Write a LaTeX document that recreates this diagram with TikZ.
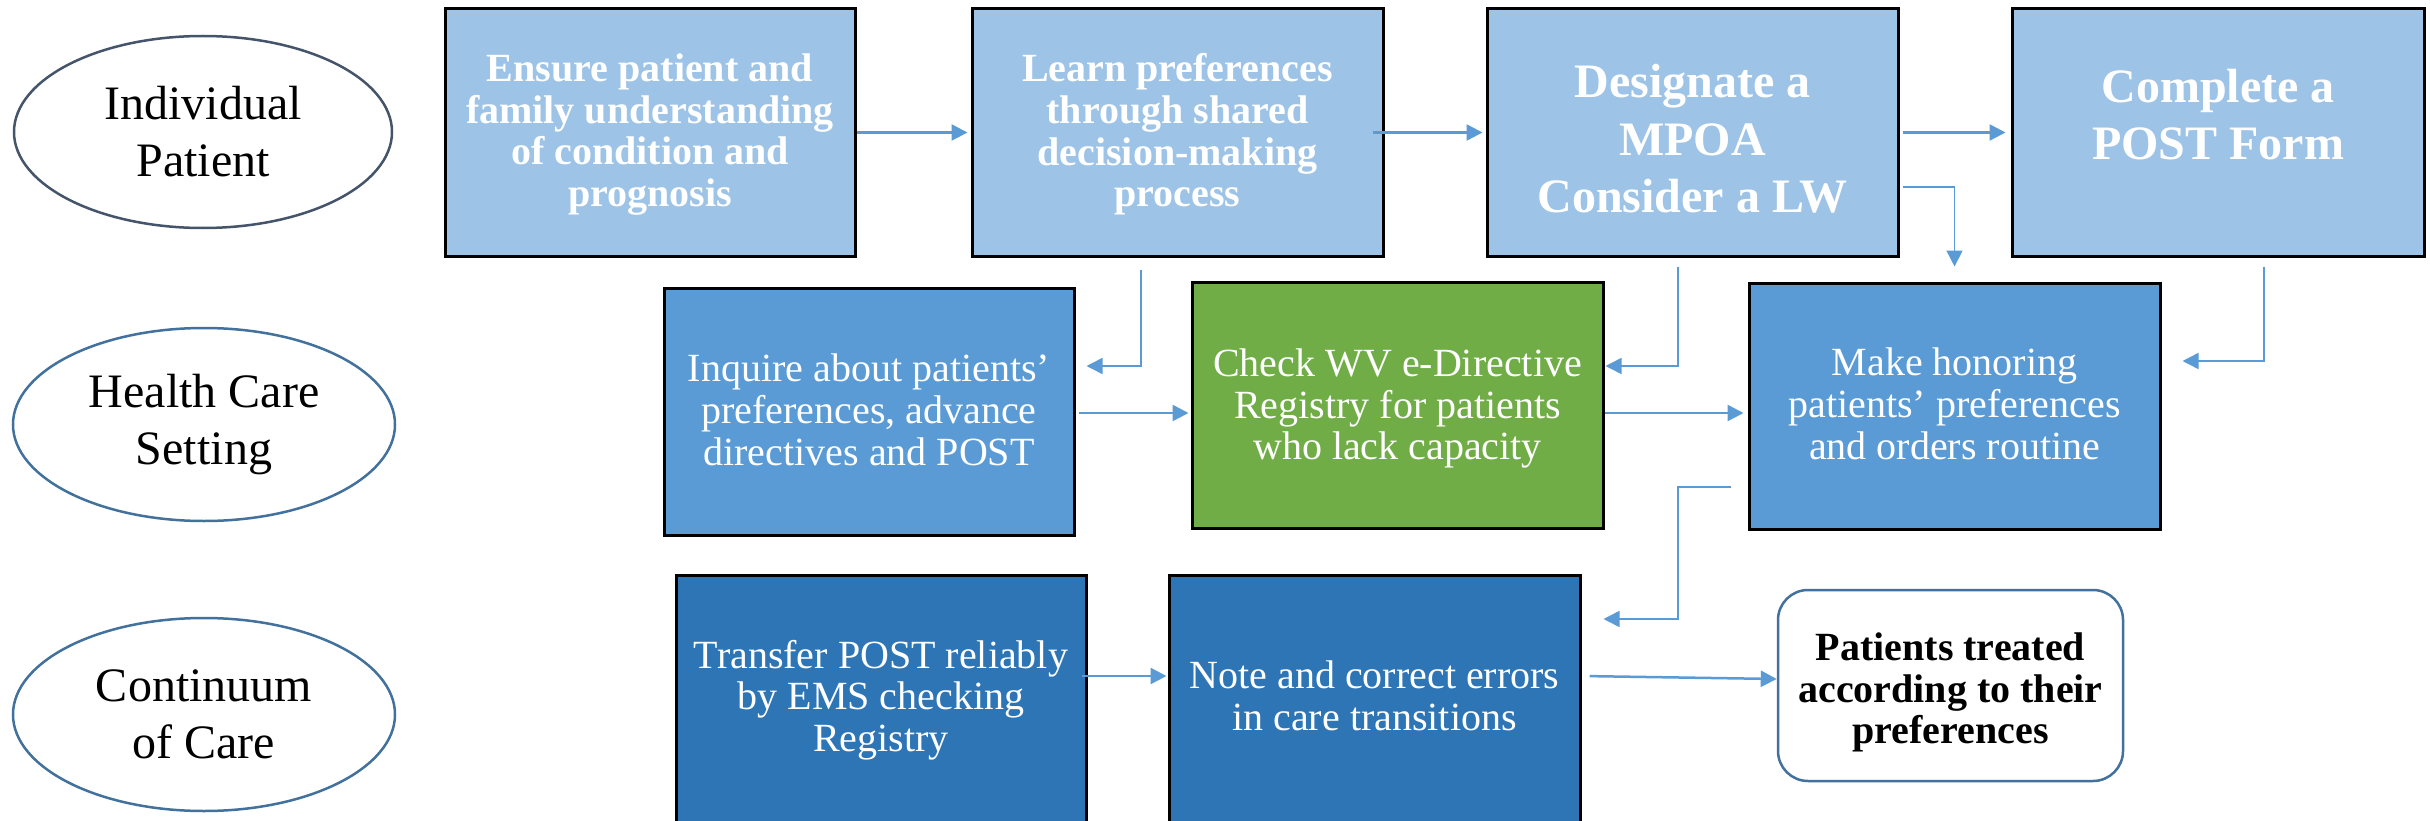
\documentclass[tikz,border=0pt]{standalone}
\usepackage{fontspec}
\setmainfont{Liberation Serif}
\usetikzlibrary{arrows.meta,shapes.geometric}
\definecolor{lightfill}{HTML}{9DC3E6}
\definecolor{midfill}{HTML}{5B9BD5}
\definecolor{greenfill}{HTML}{70AD47}
\definecolor{darkfill}{HTML}{2E75B6}
\definecolor{arrowblue}{HTML}{5B9BD5}
\definecolor{slateedge}{HTML}{44546A}
\definecolor{blueedge}{HTML}{41719C}
\begin{document}
\begin{tikzpicture}[x=1pt,y=-1pt,
  lane/.style={ellipse, draw=blueedge, line width=2.5pt, fill=white, inner sep=0, align=center,
    font=\fontsize{48}{57}\selectfont},
  stepbox/.style={rectangle, draw=black, line width=3pt, inner sep=0},
  wtxt/.style={inner sep=0, align=center, text=white, font=\fontsize{40}{41.7}\selectfont},
  wbold/.style={inner sep=0, align=center, text=white, font=\fontsize{40}{41.7}\selectfont\bfseries},
  wbig/.style={inner sep=0, align=center, text=white, font=\fontsize{48}{57.5}\selectfont\bfseries},
  arr/.style={draw=arrowblue, line width=2.5pt, -{Triangle[length=16pt,width=16pt]}},
  elbow/.style={draw=arrowblue, line width=1.6pt, -{Triangle[length=16pt,width=16pt]}}
]
\clip (0,0) rectangle (2430,821);
\fill[white] (0,0) rectangle (2430,821);

% lanes
\node[lane, draw=slateedge, minimum width=378pt, minimum height=192pt] (ell1) at (203,132) {Individual\\Patient};
\node[lane, minimum width=382pt, minimum height=193pt] (ell2) at (204,424.5) {Health Care\\Setting};
\node[lane, minimum width=382pt, minimum height=193pt] (ell3) at (204,714.5) {Continuum\\of Care};

% top row
\node[stepbox, fill=lightfill, minimum width=410pt, minimum height=247pt] (b1) at (650,132.5) {};
\node[stepbox, fill=lightfill, minimum width=411pt, minimum height=247pt] (b2) at (1177.5,132.5) {};
\node[stepbox, fill=lightfill, minimum width=411pt, minimum height=247pt] (b3) at (1692.5,132.5) {};
\node[stepbox, fill=lightfill, minimum width=412pt, minimum height=247pt] (b4) at (2218,132.5) {};
\node[wbold] (b1t) at (650,134.5) {Ensure patient and\\family understanding\\of condition and\\prognosis};
\node[wbold] (b2t) at (1177.5,134.5) {Learn preferences\\through shared\\decision-making\\process};
\node[wbig] (b3t) at (1692.5,139) {Designate a\\MPOA\\Consider a LW};
\node[wbig] (b4t) at (2218,114.5) {Complete a\\POST Form};

% middle row
\node[stepbox, fill=midfill, minimum width=410pt, minimum height=247pt] (inquire) at (869,411.5) {};
\node[stepbox, fill=greenfill, minimum width=411pt, minimum height=246pt] (green) at (1397.5,405) {};
\node[stepbox, fill=midfill, minimum width=411pt, minimum height=246pt] (make) at (1954.5,406) {};
\node[wtxt] (inquiret) at (869,410) {Inquire about patients’\\preferences, advance\\directives and POST};
\node[wtxt] (greent) at (1397.5,408.5) {Check WV e-Directive\\Registry for patients\\who lack capacity};
\node[wtxt] (maket) at (1954.5,404) {Make honoring\\patients’ preferences\\and orders routine};

% bottom row
\node[stepbox, fill=darkfill, minimum width=410pt, minimum height=265pt] (transfer) at (881,707.5) {};
\node[stepbox, fill=darkfill, minimum width=411pt, minimum height=265pt] (note) at (1374.5,707.5) {};
\node[rectangle, rounded corners=30pt, draw=blueedge, line width=2.5pt, fill=white, inner sep=0,
  minimum width=345pt, minimum height=191pt] (patients) at (1950.5,685.5) {};
\node[wtxt] (transfert) at (881,700) {Transfer POST reliably\\by EMS checking\\Registry};
\node[wtxt] (notet) at (1374.5,695.5) {Note and correct errors\\in care transitions};
\node[inner sep=0, align=center, text=black, font=\fontsize{40}{41.7}\selectfont\bfseries] (patientst) at (1950.5,692.5) {Patients treated\\according to their\\preferences};

% connectors
\draw[arr, shorten >=3pt] (b1) -- (b2);
\draw[arr, shorten >=3pt, shorten <=-12pt] (b2) -- (b3);
\draw[arr, shorten >=5pt, shorten <=3pt] (b3) -- (b4);
\draw[elbow, shorten >=15pt, shorten <=3pt] (b3.east |- 0,187) -| (make.north);
\draw[elbow, shorten <=12pt, shorten >=11pt] (1141,0 |- b2.south) |- (inquire.east |- 0,366);
\draw[elbow, shorten <=9pt, shorten >=1pt] (1678,0 |- b3.south) |- (green.east |- 0,366);
\draw[elbow, shorten <=9pt, shorten >=21pt] (2264,0 |- b4.south) |- (make.east |- 0,361);
\draw[arr, shorten <=3pt, shorten >=2pt] (inquire.east |- 0,413) -- (green.west |- 0,413);
\draw[arr, shorten <=0pt, shorten >=4pt] (green.east |- 0,413) -- (make.west |- 0,413);
\draw[elbow, shorten <=17pt, shorten >=22pt] (make.west |- 0,487) -- (1678,487) |- (note.east |- 0,619);
\draw[arr, shorten <=-6pt, shorten >=1pt] (transfer.east |- 0,676) -- (note.west |- 0,676);
\draw[arr, shorten <=8pt, shorten >=0pt] (note.east |- 0,676) -- (patients.west |- 0,679);
\end{tikzpicture}
\end{document}
